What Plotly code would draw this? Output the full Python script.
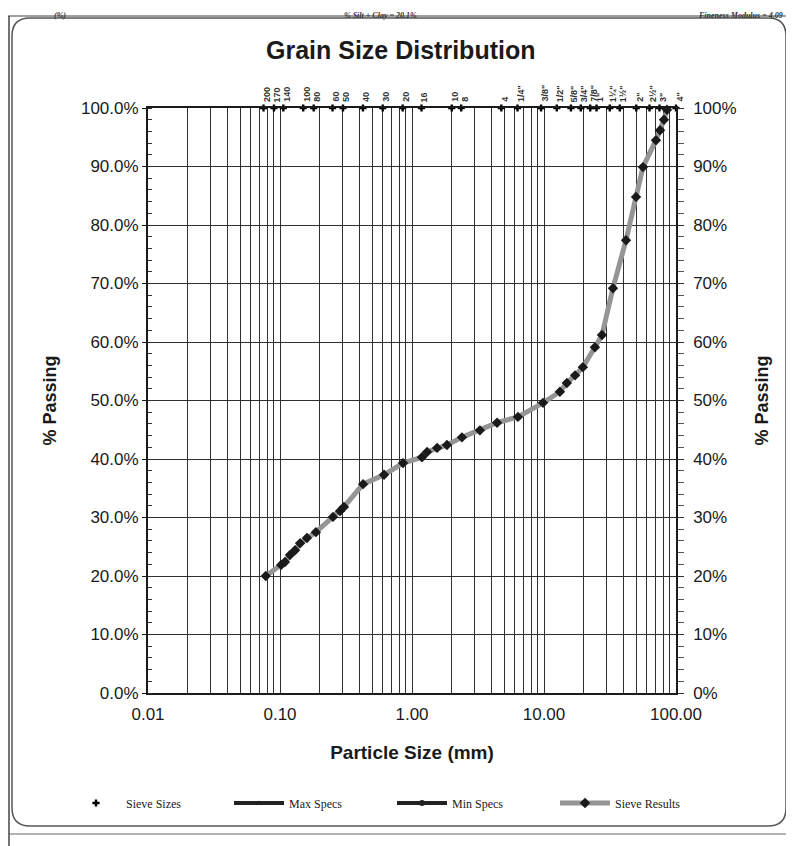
import numpy as np
import plotly.graph_objects as go

# ---------------- data ----------------
sieve_names = ["200", "170", "140", "100", "80", "60", "50", "40", "30", "20", "16",
               "10", "8", "4", "1/4\"", "3/8\"", "1/2\"", "5/8\"", "3/4\"", "7/8\"",
               "1\"", "1¼\"", "1½\"", "2\"", "2½\"", "3\"", "4\""]
sieve_mm = [0.075, 0.090, 0.106, 0.150, 0.180, 0.250, 0.300, 0.425, 0.600, 0.850, 1.18,
            2.00, 2.36, 4.75, 6.3, 9.5, 12.5, 16.0, 19.0, 22.4,
            25.0, 31.5, 37.5, 50.0, 63.0, 75.0, 100.0]

result_size = [0.078, 0.102, 0.109, 0.119, 0.130, 0.142, 0.160, 0.187, 0.252, 0.285,
               0.305, 0.426, 0.614, 0.855, 1.19, 1.30, 1.55, 1.84, 2.39, 3.27,
               4.41, 6.35, 9.83, 13.2, 14.9, 17.2, 19.7, 24.3, 27.5, 33.3,
               41.8, 49.8, 56.2, 70.5, 75.7, 81.1, 85.5]
result_pass = [20.0, 21.9, 22.4, 23.6, 24.4, 25.6, 26.5, 27.5, 30.1, 31.1,
               31.8, 35.7, 37.3, 39.3, 40.3, 41.2, 41.9, 42.4, 43.7, 44.9,
               46.2, 47.2, 49.6, 51.5, 53.0, 54.3, 55.7, 59.1, 61.2, 69.2,
               77.4, 84.8, 89.9, 94.5, 96.2, 98.0, 99.7]

pct_ticks = list(range(0, 101, 10))
left_labels = [f"{v:.1f}%" for v in pct_ticks]
right_labels = [f"{v}%" for v in pct_ticks]

x_grid_vals = [m * 10.0 ** e for e in range(-2, 2) for m in range(1, 10)] + [100.0]
x_major = {0.01: "0.01", 0.1: "0.10", 1.0: "1.00", 10.0: "10.00", 100.0: "100.00"}
x_text = [x_major.get(round(v, 6), "") for v in x_grid_vals]

header_left = "(%)"
header_mid = "% Silt + Clay = 20.1%"
header_right = "Fineness Modulus = 4.09"

# ---------------- figure ----------------
SANS = "Liberation Sans, Arial, sans-serif"
SERIF = "Liberation Serif, Times New Roman, serif"
GRID = "#2e2e2e"

fig = go.Figure()

fig.add_trace(go.Scatter(
    x=sieve_mm, y=[100] * len(sieve_mm), mode="markers", name="Sieve Sizes",
    marker=dict(symbol="cross", size=6, color="black"),
    cliponaxis=False))

fig.add_trace(go.Scatter(
    x=[None], y=[None], mode="lines+markers", name="Max Specs",
    line=dict(color="#222222", width=4),
    marker=dict(symbol="triangle-up", size=5, color="#222222")))

fig.add_trace(go.Scatter(
    x=[None], y=[None], mode="lines+markers", name="Min Specs",
    line=dict(color="#222222", width=4),
    marker=dict(symbol="circle", size=6, color="#222222")))

fig.add_trace(go.Scatter(
    x=result_size, y=result_pass, mode="lines+markers", name="Sieve Results",
    line=dict(color="#959595", width=5),
    marker=dict(symbol="diamond", size=8, color="#1a1a1a"),
    cliponaxis=False))

# invisible helper trace for right axis
fig.add_trace(go.Scatter(x=[0.01, 100], y=[0, 100], yaxis="y2", mode="markers",
                         marker=dict(opacity=0), showlegend=False, hoverinfo="skip"))

# sieve labels (rotated)
for name, d in zip(sieve_names, sieve_mm):
    fig.add_annotation(x=np.log10(d), y=100, xref="x", yref="y", text=f"<b>{name}</b>",
                       textangle=-90, showarrow=False, yanchor="bottom", xanchor="center",
                       yshift=4, xshift=3, font=dict(family=SANS, size=9, color="#333333"))


def px2x(px):  # screenshot pixel -> paper x (plot area 148..676)
    return (px - 148) / 528.0


def py2y(py):  # screenshot pixel -> paper y (plot area 108..693)
    return (693 - py) / 585.0


# chart title
fig.add_annotation(x=px2x(400), y=py2y(50), xref="paper", yref="paper",
                   text="<b>Grain Size Distribution</b>", showarrow=False,
                   xanchor="center", yanchor="middle",
                   font=dict(family=SANS, size=25, color="#1a1a1a"))

# header (cut-off line of a previous table)
for txt, xp, anchor in [(header_left, px2x(60), "center"), (header_mid, px2x(380), "center"),
                        (header_right, px2x(785), "right")]:
    fig.add_annotation(x=xp, y=py2y(9), xref="paper", yref="paper", text=f"<b><i>{txt}</i></b>",
                       showarrow=False, xanchor=anchor, yanchor="top",
                       font=dict(family=SERIF, size=8, color="#333333"))

# rounded frame and page borders
L, R, T, B = px2x(12), px2x(786), py2y(18), py2y(826)
rx, ry = 18 / 528.0, 18 / 585.0
path = (f"M {L+rx},{T} L {R-rx},{T} Q {R},{T} {R},{T-ry} L {R},{B+ry} "
        f"Q {R},{B} {R-rx},{B} L {L+rx},{B} Q {L},{B} {L},{B+ry} L {L},{T-ry} "
        f"Q {L},{T} {L+rx},{T} Z")
fig.add_shape(type="path", path=path, xref="paper", yref="paper",
              line=dict(color="#555555", width=1.5))
for xx in [px2x(9), px2x(791)]:
    fig.add_shape(type="line", xref="paper", yref="paper", x0=xx, x1=xx,
                  y0=py2y(846), y1=py2y(16), line=dict(color="#444444", width=1.5))
fig.add_shape(type="line", xref="paper", yref="paper", x0=px2x(8), x1=px2x(794),
              y0=py2y(16), y1=py2y(16), line=dict(color="#444444", width=1.2))
fig.add_shape(type="line", xref="paper", yref="paper", x0=px2x(8), x1=px2x(794),
              y0=py2y(834), y1=py2y(834), line=dict(color="#666666", width=1))

fig.update_layout(
    width=794, height=846,
    margin=dict(l=140, r=126, t=100, b=161, autoexpand=False),
    paper_bgcolor="white", plot_bgcolor="white",
    font=dict(family=SANS, size=17, color="#1a1a1a"),
    showlegend=True,
    legend=dict(orientation="h", x=px2x(66), xanchor="left", y=py2y(803), yanchor="middle",
                entrywidth=98, entrywidthmode="pixels", itemwidth=50,
                font=dict(family=SERIF, size=12, color="#1a1a1a"),
                bgcolor="rgba(0,0,0,0)"),
    xaxis=dict(type="log", range=[-2, 2], tickmode="array", tickvals=x_grid_vals,
               ticktext=x_text, showgrid=True, gridcolor=GRID, gridwidth=1,
               showline=True, linecolor="#1a1a1a", linewidth=2, mirror=True,
               ticks="", tickfont=dict(size=17), ticklabelstandoff=5,
               title=dict(text="<b>Particle Size (mm)</b>", font=dict(size=19), standoff=22),
               zeroline=False, automargin=False),
    yaxis=dict(range=[0, 100], tickmode="array", tickvals=pct_ticks, ticktext=left_labels,
               showgrid=True, gridcolor=GRID, gridwidth=1,
               showline=True, linecolor="#1a1a1a", linewidth=2,
               ticks="outside", ticklen=4, tickcolor="#1a1a1a",
               minor=dict(dtick=2, ticks="inside", ticklen=4, tickcolor="#333333", showgrid=False),
               tickfont=dict(size=17),
               title=dict(text="<b>% Passing</b>", font=dict(size=18), standoff=20),
               zeroline=False, automargin=False),
    yaxis2=dict(range=[0, 100], overlaying="y", side="right", tickmode="array",
                tickvals=pct_ticks, ticktext=right_labels, showgrid=False,
                showline=True, linecolor="#1a1a1a", linewidth=1.5,
                ticks="outside", ticklen=6, tickcolor="#333333",
                minor=dict(dtick=2, ticks="outside", ticklen=6, tickcolor="#555555"),
                tickfont=dict(size=17), ticklabelstandoff=6,
                title=dict(text="<b>% Passing</b>", font=dict(size=18), standoff=20),
                zeroline=False, automargin=False),
)

fig.write_html("out.html")
